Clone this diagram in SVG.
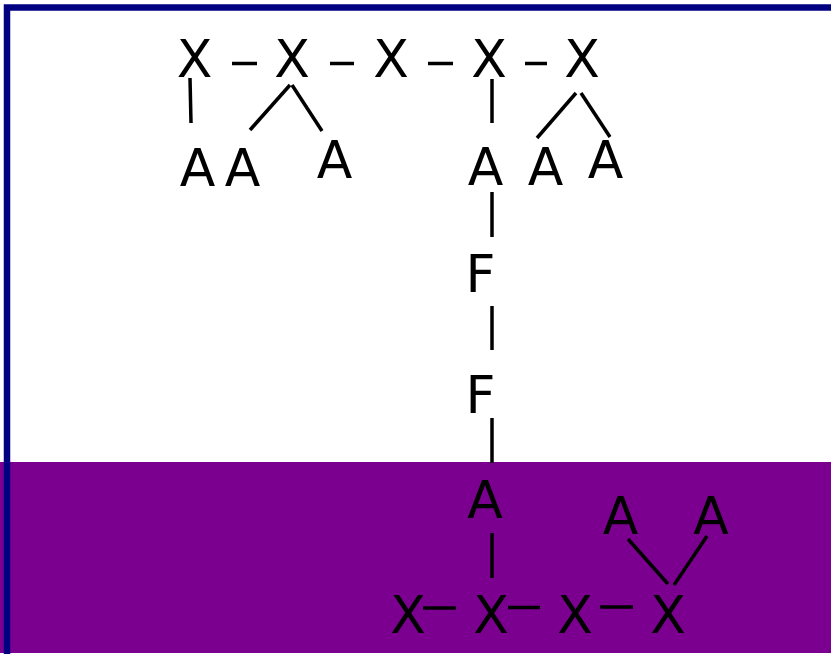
<svg xmlns="http://www.w3.org/2000/svg" width="831" height="654" viewBox="0 0 831 654">
<style>
text{font-family:"DejaVu Sans",sans-serif;font-size:52px;fill:#000;text-anchor:middle}
#connectors line{stroke:#000;stroke-width:3.5;stroke-linecap:butt}
</style>
<rect x="0" y="0" width="831" height="654" fill="#fff"/>
<rect x="0" y="462" width="831" height="191" fill="#7b008f"/>
<rect x="7" y="7.5" width="840" height="660" fill="none" stroke="#000080" stroke-width="6.5"/>
<g id="connectors">
<line x1="232" y1="63.5" x2="257" y2="63.5"/>
<line x1="330" y1="63.5" x2="354" y2="63.5"/>
<line x1="428" y1="63.5" x2="453" y2="63.5"/>
<line x1="525" y1="63.5" x2="547" y2="63.5"/>
<line x1="190" y1="78" x2="191" y2="123"/>
<line x1="290" y1="85" x2="250" y2="130"/>
<line x1="292" y1="85" x2="322" y2="131"/>
<line x1="492" y1="79" x2="492" y2="123"/>
<line x1="576" y1="93" x2="537" y2="138"/>
<line x1="581" y1="93" x2="610" y2="137"/>
<line x1="492" y1="192" x2="492" y2="237"/>
<line x1="492" y1="306" x2="492" y2="350"/>
<line x1="492" y1="418" x2="492" y2="463"/>
<line x1="492" y1="533" x2="492" y2="578"/>
<line x1="628" y1="539" x2="668" y2="584"/>
<line x1="707" y1="536" x2="674" y2="585"/>
<line x1="423" y1="608" x2="456" y2="608"/>
<line x1="508" y1="607.5" x2="540" y2="607.5"/>
<line x1="600" y1="607" x2="633" y2="607"/>
</g>
<g id="x1"><text x="194.5" y="77">X</text></g>
<g id="x2"><text x="292" y="77">X</text></g>
<g id="x3"><text x="391" y="77">X</text></g>
<g id="x4"><text x="489" y="77">X</text></g>
<g id="x5"><text x="582" y="77">X</text></g>
<g id="a1"><text x="197.5" y="186">A</text></g>
<g id="a2"><text x="242.5" y="186">A</text></g>
<g id="a3"><text x="334.5" y="178">A</text></g>
<g id="a4"><text x="485.5" y="185">A</text></g>
<g id="a5"><text x="545.5" y="185">A</text></g>
<g id="a6"><text x="605.5" y="178">A</text></g>
<g id="f1"><text x="480.5" y="292">F</text></g>
<g id="f2"><text x="480.5" y="413">F</text></g>
<g id="a7"><text x="485" y="518">A</text></g>
<g id="a8"><text x="620.5" y="534">A</text></g>
<g id="a9"><text x="711" y="534">A</text></g>
<g id="x6"><text x="408" y="633">X</text></g>
<g id="x7"><text x="491" y="633">X</text></g>
<g id="x8"><text x="575" y="633">X</text></g>
<g id="x9"><text x="668" y="633">X</text></g>
</svg>
